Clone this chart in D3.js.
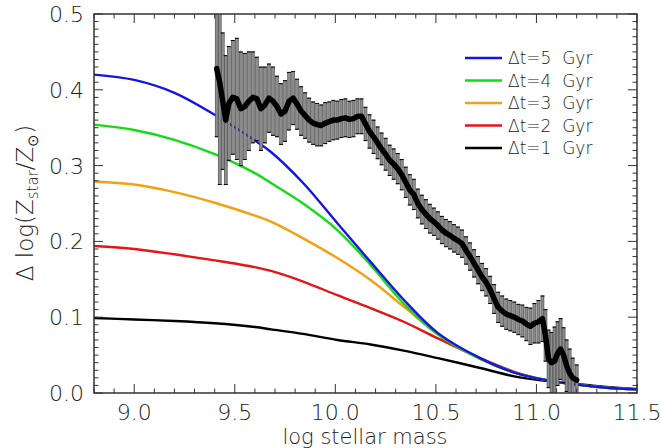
<!DOCTYPE html>
<html>
<head>
<meta charset="utf-8">
<script src="https://cdn.jsdelivr.net/npm/d3@7"></script>
<style>
  html, body { margin: 0; padding: 0; background: #fff; }
  svg text { font-family: "DejaVu Sans", "Lato", sans-serif; font-weight: 200; fill: #222; }
</style>
</head>
<body>
<svg id="chart" width="661" height="448"></svg>
<script>
// ── Model curves (log stellar mass → Δ log Z) ───────────────────────────────
const curveMass = [8.8, 9.0, 9.2, 9.4, 9.6, 9.68, 9.84, 10.01, 10.175, 10.34, 10.51, 10.72, 10.89, 11.05, 11.2, 11.35, 11.5];
const dt5 = [0.420, 0.413, 0.396, 0.367, 0.333, 0.318, 0.277, 0.224, 0.173, 0.123, 0.079, 0.046, 0.027, 0.017, 0.011, 0.007, 0.005];
const dt4 = [0.354, 0.347, 0.334, 0.315, 0.290, 0.277, 0.250, 0.215, 0.169, 0.118, 0.077, 0.045, 0.027, 0.017, 0.011, 0.007, 0.005];
const dt3 = [0.279, 0.275, 0.265, 0.251, 0.234, 0.226, 0.204, 0.178, 0.149, 0.114, 0.078, 0.045, 0.027, 0.017, 0.011, 0.007, 0.005];
const dt2 = [0.194, 0.190, 0.183, 0.175, 0.166, 0.161, 0.147, 0.129, 0.112, 0.094, 0.072, 0.046, 0.028, 0.017, 0.011, 0.007, 0.005];
const dt1 = [0.099, 0.097, 0.095, 0.092, 0.087, 0.084, 0.078, 0.070, 0.064, 0.056, 0.046, 0.033, 0.022, 0.016, 0.012, 0.008, 0.005];

const seriesNames  = ['\u0394t=5  Gyr', '\u0394t=4  Gyr', '\u0394t=3  Gyr', '\u0394t=2  Gyr', '\u0394t=1  Gyr'];
const seriesValues = [dt5, dt4, dt3, dt2, dt1];
const seriesColors = ['#1414e6', '#14dc14', '#f5a00f', '#e61414', '#000000'];

// ── Observed residuals with error bars ───────────────────────────────────────
const obsMass = [9.41, 9.425, 9.44, 9.455, 9.47, 9.49, 9.51, 9.53, 9.55, 9.57, 9.59, 9.61, 9.63, 9.65, 9.67, 9.69, 9.71, 9.73, 9.75, 9.77,
  9.79, 9.81, 9.83, 9.85, 9.87, 9.89, 9.91, 9.93, 9.95, 9.97, 9.99, 10.01, 10.03, 10.05, 10.07, 10.09, 10.11, 10.13, 10.15, 10.17,
  10.19, 10.21, 10.23, 10.25, 10.27, 10.29, 10.31, 10.33, 10.35, 10.37, 10.39, 10.41, 10.43, 10.45, 10.47, 10.49, 10.51, 10.53, 10.55, 10.57,
  10.59, 10.61, 10.63, 10.65, 10.67, 10.69, 10.71, 10.73, 10.75, 10.77, 10.79, 10.81, 10.83, 10.85, 10.87, 10.89, 10.91, 10.93, 10.95, 10.97,
  10.99, 11.01, 11.03, 11.045, 11.06, 11.075, 11.09, 11.105, 11.12, 11.135, 11.15, 11.165, 11.18, 11.2];
const obsValue = [0.428, 0.410, 0.385, 0.360, 0.382, 0.390, 0.388, 0.375, 0.378, 0.385, 0.390, 0.388, 0.375, 0.380, 0.389, 0.385, 0.378, 0.368, 0.372, 0.385,
  0.389, 0.381, 0.372, 0.366, 0.360, 0.356, 0.354, 0.353, 0.356, 0.358, 0.360, 0.360, 0.362, 0.363, 0.361, 0.362, 0.365, 0.365, 0.355, 0.345,
  0.338, 0.330, 0.322, 0.315, 0.307, 0.302, 0.296, 0.288, 0.278, 0.268, 0.262, 0.250, 0.242, 0.236, 0.230, 0.226, 0.221, 0.215, 0.211, 0.208,
  0.204, 0.201, 0.197, 0.188, 0.180, 0.171, 0.162, 0.153, 0.146, 0.136, 0.124, 0.113, 0.108, 0.104, 0.102, 0.100, 0.097, 0.095, 0.091, 0.088,
  0.092, 0.094, 0.098, 0.076, 0.045, 0.040, 0.042, 0.052, 0.058, 0.050, 0.036, 0.026, 0.020, 0.017];
const obsError = [0.090, 0.135, 0.090, 0.085, 0.075, 0.075, 0.080, 0.075, 0.070, 0.065, 0.060, 0.055, 0.055, 0.050, 0.045, 0.045, 0.040, 0.040, 0.040, 0.038,
  0.035, 0.033, 0.032, 0.030, 0.029, 0.028, 0.028, 0.027, 0.027, 0.026, 0.026, 0.025, 0.025, 0.025, 0.024, 0.024, 0.023, 0.023, 0.022, 0.022,
  0.022, 0.021, 0.021, 0.021, 0.020, 0.020, 0.020, 0.020, 0.020, 0.020, 0.020, 0.019, 0.019, 0.019, 0.019, 0.018, 0.018, 0.018, 0.018, 0.018,
  0.018, 0.018, 0.018, 0.018, 0.018, 0.018, 0.018, 0.018, 0.018, 0.018, 0.019, 0.020, 0.020, 0.020, 0.020, 0.020, 0.020, 0.021, 0.022, 0.024,
  0.026, 0.028, 0.030, 0.034, 0.038, 0.040, 0.045, 0.042, 0.040, 0.036, 0.034, 0.032, 0.026, 0.020];

const xTicks = [9.0, 9.5, 10.0, 10.5, 11.0, 11.5];
const yTicks = [0.0, 0.1, 0.2, 0.3, 0.4, 0.5];

// ── Layout ───────────────────────────────────────────────────────────────────
const plot = { left: 94, right: 637, top: 14, bottom: 393 };

const svg = d3.select('#chart');
const x = d3.scaleLinear().domain([8.8, 11.5]).range([plot.left, plot.right]);
const y = d3.scaleLinear().domain([0, 0.5]).range([plot.bottom, plot.top]);

svg.append('defs').append('clipPath').attr('id', 'plotclip')
  .append('rect')
  .attr('x', plot.left).attr('y', plot.top)
  .attr('width', plot.right - plot.left).attr('height', plot.bottom - plot.top);

const inner = svg.append('g').attr('clip-path', 'url(#plotclip)');

// Model curves: draw black first, blue last (blue sits on top where they merge)
const line = d3.line().x(d => x(d[0])).y(d => y(d[1])).curve(d3.curveCatmullRom.alpha(0.5));
for (let i = seriesValues.length - 1; i >= 0; i--) {
  inner.append('path')
    .datum(curveMass.map((m, j) => [m, seriesValues[i][j]]))
    .attr('fill', 'none')
    .attr('stroke', seriesColors[i])
    .attr('stroke-width', 2.4)
    .attr('d', line);
}

// Error bars — grey columns with black caps
const obs = obsMass.map((m, i) => ({ m, v: obsValue[i], e: obsError[i] }));
const bars = inner.append('g');
obs.forEach(d => {
  const bx = x(d.m), y0 = y(d.v - d.e), y1 = y(d.v + d.e);
  bars.append('rect').attr('x', bx - 1.5).attr('width', 3).attr('y', y1).attr('height', y0 - y1)
    .attr('fill', '#8c8c8c').attr('stroke', '#333').attr('stroke-width', 0.5);
  [y0, y1].forEach(cy => {
    bars.append('line').attr('x1', bx - 2).attr('x2', bx + 2).attr('y1', cy).attr('y2', cy)
      .attr('stroke', '#000').attr('stroke-width', 1);
  });
});

// Thick observed line
inner.append('path')
  .datum(obs)
  .attr('fill', 'none')
  .attr('stroke', '#000')
  .attr('stroke-width', 5.5)
  .attr('stroke-linejoin', 'round')
  .attr('stroke-linecap', 'round')
  .attr('d', d3.line().x(d => x(d.m)).y(d => y(d.v)));

// ── Axes: ticks on all four sides ───────────────────────────────────────────
const axisColor = '#333';
const axes = svg.append('g');
const xMinor = d3.range(8.8, 11.5001, 0.1);
const yMinor = d3.range(0, 0.5001, 0.01);

xMinor.forEach(v => {
  const major = xTicks.some(t => Math.abs(t - v) < 1e-6);
  const len = major ? 9 : 4.5;
  axes.append('line').attr('x1', x(v)).attr('x2', x(v)).attr('y1', plot.bottom).attr('y2', plot.bottom - len)
    .attr('stroke', axisColor).attr('stroke-width', 1);
  axes.append('line').attr('x1', x(v)).attr('x2', x(v)).attr('y1', plot.top).attr('y2', plot.top + len)
    .attr('stroke', axisColor).attr('stroke-width', 1);
});
yMinor.forEach(v => {
  const major = yTicks.some(t => Math.abs(t - v) < 1e-6);
  const len = major ? 9 : 4.5;
  axes.append('line').attr('x1', plot.left).attr('x2', plot.left + len).attr('y1', y(v)).attr('y2', y(v))
    .attr('stroke', axisColor).attr('stroke-width', 1);
  axes.append('line').attr('x1', plot.right).attr('x2', plot.right - len).attr('y1', y(v)).attr('y2', y(v))
    .attr('stroke', axisColor).attr('stroke-width', 1);
});

axes.append('rect')
  .attr('x', plot.left).attr('y', plot.top)
  .attr('width', plot.right - plot.left).attr('height', plot.bottom - plot.top)
  .attr('fill', 'none').attr('stroke', axisColor).attr('stroke-width', 1.5);

// Tick labels
xTicks.forEach(t => {
  svg.append('text').attr('x', x(t)).attr('y', 420).attr('text-anchor', 'middle')
    .attr('font-size', 22).text(t.toFixed(1));
});
yTicks.forEach(t => {
  svg.append('text').attr('x', 84).attr('y', y(t) + 8).attr('text-anchor', 'end')
    .attr('font-size', 22).text(t.toFixed(1));
});

// Axis titles
svg.append('text').attr('x', 365).attr('y', 444).attr('text-anchor', 'middle')
  .attr('font-size', 21).text('log stellar mass');

const ylab = svg.append('text')
  .attr('transform', 'translate(33,203) rotate(-90)')
  .attr('text-anchor', 'middle').attr('font-size', 23);
ylab.append('tspan').text('\u0394  log(Z');
ylab.append('tspan').attr('font-size', 15).attr('dy', 5).text('star');
ylab.append('tspan').attr('dy', -5).text('/Z');
ylab.append('tspan').attr('font-size', 15).attr('dy', 5).text('\u2299');
ylab.append('tspan').attr('dy', -5).text(')');

// ── Legend ───────────────────────────────────────────────────────────────────
const legend = svg.append('g');
seriesNames.forEach((name, i) => {
  const ly = 58 + i * 22.5;
  legend.append('line').attr('x1', 465).attr('x2', 502).attr('y1', ly).attr('y2', ly)
    .attr('stroke', seriesColors[i]).attr('stroke-width', 2.4);
  legend.append('text').attr('x', 508).attr('y', ly + 6).attr('font-size', 17)
    .attr('xml:space', 'preserve').style('white-space', 'pre').text(name);
});
</script>
</body>
</html>
